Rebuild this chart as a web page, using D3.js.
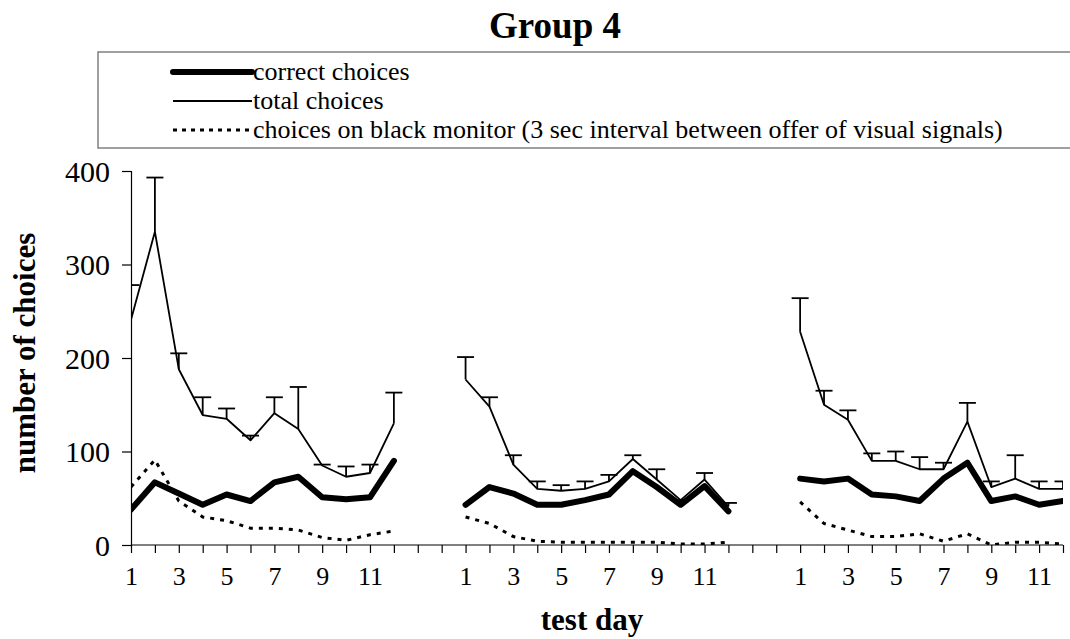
<!DOCTYPE html>
<html>
<head>
<meta charset="utf-8">
<script src="https://cdn.jsdelivr.net/npm/d3@7"></script>
<style>
html,body{margin:0;padding:0;background:#fff;overflow:hidden;}
svg{display:block;}
</style>
</head>
<body>
<svg id="chart" width="1070" height="639"></svg>
<script>
// ---- data ----
const dayLabels = ["1","","3","","5","","7","","9","","11",""];
const gapSize = 2;
const yTicks = [0,100,200,300,400];

const totalG1 = [241,335,188,139,135,112,141,124,85,73,77,130];
const totalErrG1 = [37,58,17,19,11,5,17,45,1,11,9,33];
const correctG1 = [38,67,55,43,54,47,67,73,51,49,51,90];
const blackG1 = [62,91,47,30,26,18,18,16,8,5,11,15];

const totalG2 = [177,148,86,60,58,60,68,92,70,48,70,41];
const totalErrG2 = [24,10,10,8,6,8,7,4,11,0,7,4];
const correctG2 = [43,62,55,43,43,48,54,79,62,43,63,36];
const blackG2 = [30,23,9,4,3,3,3,3,3,1,1,3];

const totalG3 = [228,150,134,90,90,81,81,132,62,71,60,60];
const totalErrG3 = [36,15,10,8,10,13,7,20,6,25,8,8];
const correctG3 = [71,68,71,54,52,47,71,88,47,52,43,47];
const blackG3 = [46,23,16,9,9,12,4,12,0,3,3,1];

const legendLabels = ["correct choices","total choices","choices on black monitor (3 sec interval between offer of visual signals)"];
const titleText = "Group 4";
const yTitle = "number of choices";
const xTitle = "test day";

const FONT = "Liberation Serif";

// ---- build categories ----
const groups = [
  {total: totalG1, err: totalErrG1, correct: correctG1, black: blackG1},
  {total: totalG2, err: totalErrG2, correct: correctG2, black: blackG2},
  {total: totalG3, err: totalErrG3, correct: correctG3, black: blackG3}
];
const categories = [];
groups.forEach((g, gi) => {
  dayLabels.forEach((lab, di) => categories.push({key: "g"+gi+"d"+di, label: lab}));
  if (gi < groups.length - 1) for (let k = 0; k < gapSize; k++) categories.push({key: "gap"+gi+"_"+k, label: ""});
});
const catIndexOf = (gi, di) => "g"+gi+"d"+di;

// ---- layout ----
const svg = d3.select("#chart");
const plot = {left: 131, right: 1063, top: 171, bottom: 545};
const x = d3.scalePoint().domain(categories.map(c => c.key)).range([plot.left, plot.right]);
const y = d3.scaleLinear().domain([0,400]).range([plot.bottom, plot.top]);

// title
svg.append("text").attr("x", 555).attr("y", 38).attr("text-anchor","middle")
  .attr("font-family", FONT).attr("font-size", 37).attr("font-weight","bold").text(titleText);

// legend box
const lg = svg.append("g");
lg.append("rect").attr("x", 98).attr("y", 52).attr("width", 1100).attr("height", 96)
  .attr("fill","none").attr("stroke","#808080").attr("stroke-width",1.5);
const legendStyles = [
  {w: 6, dash: null},
  {w: 1.8, dash: null},
  {w: 3, dash: "4,5"}
];
legendLabels.forEach((lab, i) => {
  const yy = 72 + i*29;
  lg.append("line").attr("x1",173).attr("x2",252).attr("y1",yy).attr("y2",yy)
    .attr("stroke","#000").attr("stroke-width",legendStyles[i].w)
    .attr("stroke-dasharray",legendStyles[i].dash)
    .attr("stroke-linecap", i===0 ? "round" : "butt");
  lg.append("text").attr("x",253).attr("y",yy+8).attr("font-family", FONT).attr("font-size",26).text(lab);
});

// clip
svg.append("clipPath").attr("id","clip").append("rect")
  .attr("x", plot.left).attr("y", 0).attr("width", plot.right-plot.left).attr("height", plot.bottom);

// axes
const yAxis = d3.axisLeft(y).tickValues(yTicks).tickSize(9).tickPadding(12).tickFormat(d3.format("d"));
const gy = svg.append("g").attr("transform",`translate(${plot.left},0)`).call(yAxis);
gy.attr("font-family", FONT);
gy.select(".domain").attr("stroke","#000").attr("stroke-width",1.2);
gy.selectAll(".tick line").attr("stroke","#000").attr("stroke-width",1.2);
gy.selectAll(".tick text").attr("font-family", FONT).attr("font-size",30).attr("fill","#000").attr("dy","0.34em");

const xAxis = d3.axisBottom(x).tickSize(8).tickPadding(14).tickFormat(k => categories.find(c => c.key===k).label);
const gx = svg.append("g").attr("transform",`translate(0,${plot.bottom})`).call(xAxis);
gx.attr("font-family", FONT);
gx.select(".domain").attr("stroke","#000").attr("stroke-width",1.2).attr("d", `M${plot.left},0H${plot.right}`);
gx.selectAll(".tick line").attr("stroke","#000").attr("stroke-width",1.2);
gx.selectAll(".tick text").attr("font-family", FONT).attr("font-size",26).attr("fill","#000");

// axis titles
svg.append("text").attr("transform","translate(35,353) rotate(-90)").attr("text-anchor","middle")
  .attr("font-family", FONT).attr("font-size",31).attr("font-weight","bold").text(yTitle);
svg.append("text").attr("x",592).attr("y",630).attr("text-anchor","middle")
  .attr("font-family", FONT).attr("font-size",31).attr("font-weight","bold").text(xTitle);

// series
const marks = svg.append("g").attr("clip-path","url(#clip)");
const line = d3.line().x(d => x(d.k)).y(d => y(d.v));
groups.forEach((g, gi) => {
  const pts = arr => arr.map((v, di) => ({k: catIndexOf(gi, di), v}));
  // error bars (plus only)
  g.total.forEach((v, di) => {
    const cx = x(catIndexOf(gi, di));
    const top = y(v + g.err[di]);
    marks.append("line").attr("x1",cx).attr("x2",cx).attr("y1",y(v)).attr("y2",top)
      .attr("stroke","#000").attr("stroke-width",1.8);
    marks.append("line").attr("x1",cx-8.5).attr("x2",cx+8.5).attr("y1",top).attr("y2",top)
      .attr("stroke","#000").attr("stroke-width",1.8);
  });
  marks.append("path").datum(pts(g.total)).attr("d",line).attr("fill","none")
    .attr("stroke","#000").attr("stroke-width",1.8).attr("stroke-linejoin","round");
  marks.append("path").datum(pts(g.black)).attr("d",line).attr("fill","none")
    .attr("stroke","#000").attr("stroke-width",3).attr("stroke-dasharray","4,6");
  marks.append("path").datum(pts(g.correct)).attr("d",line).attr("fill","none")
    .attr("stroke","#000").attr("stroke-width",6).attr("stroke-linejoin","round").attr("stroke-linecap","round");
});
</script>
</body>
</html>
